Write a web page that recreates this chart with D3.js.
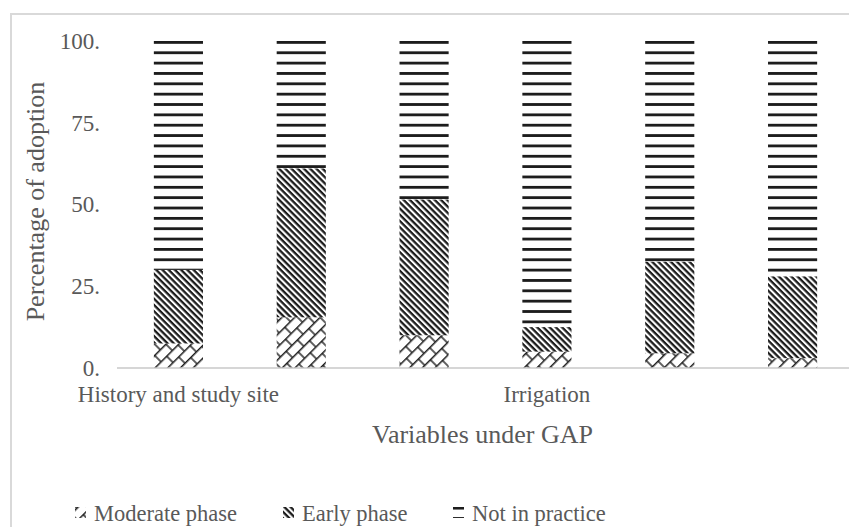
<!DOCTYPE html>
<html>
<head>
<meta charset="utf-8">
<script src="https://cdn.jsdelivr.net/npm/d3@7"></script>
<style>
  html, body { margin: 0; padding: 0; background: #fff; }
  svg { display: block; font-family: "Liberation Serif", "Times New Roman", serif; }
</style>
</head>
<body>
<svg id="chart" width="849" height="527"></svg>
<script>
// Adoption of good agricultural practices, percentage by phase
const categoryLabels = ["History and study site", "", "", "Irrigation", "", ""];
const moderatePhase = [7.5, 15.5, 10, 5, 4.5, 3];
const earlyPhase = [22.5, 45.5, 41.5, 7.5, 28, 25];
const notInPractice = [70, 39, 48.5, 87.5, 67.5, 72];
const yTicks = [0, 25, 50, 75, 100];
const yTickLabels = ["0.", "25.", "50.", "75.", "100."];
const seriesNames = ["Moderate phase", "Early phase", "Not in practice"];

const svg = d3.select("#chart");
const textColor = "#595959";
const ink = "#1c1c1c";

const plot = { left: 117, right: 854, top: 41, bottom: 368 };

const x = d3.scaleBand()
  .domain(categoryLabels.map((_, i) => i))
  .range([plot.left, plot.right])
  .paddingInner(0.6)
  .paddingOuter(0.3);

const y = d3.scaleLinear().domain([0, 100]).range([plot.bottom, plot.top]);

// ---- fill patterns ----
const defs = svg.append("defs");

// horizontal rules
const pNot = defs.append("pattern")
  .attr("id", "pat-not")
  .attr("patternUnits", "userSpaceOnUse")
  .attr("x", 0).attr("y", y(100))
  .attr("width", 10).attr("height", 10.35);
pNot.append("rect").attr("x", 0).attr("y", 0).attr("width", 10).attr("height", 2.8).attr("fill", ink);

// dense downward diagonal
const pEarly = defs.append("pattern")
  .attr("id", "pat-early")
  .attr("patternUnits", "userSpaceOnUse")
  .attr("width", 8).attr("height", 4.4)
  .attr("patternTransform", "rotate(45)");
pEarly.append("rect").attr("x", 0).attr("y", 0).attr("width", 8).attr("height", 2.3).attr("fill", ink);

// diagonal brick
const pMod = defs.append("pattern")
  .attr("id", "pat-mod")
  .attr("patternUnits", "userSpaceOnUse")
  .attr("width", 16).attr("height", 18)
  .attr("patternTransform", "rotate(-45)");
pMod.append("path")
  .attr("d", "M0,0.7H16M0,9.7H16M2,0.7V9.7M10,9.7V18.7")
  .attr("stroke", ink).attr("stroke-width", 1.4).attr("fill", "none");

const fills = ["url(#pat-mod)", "url(#pat-early)", "url(#pat-not)"];

// ---- chart frame ----
svg.append("rect")
  .attr("x", 11).attr("y", 14)
  .attr("width", 900).attr("height", 600)
  .attr("fill", "none").attr("stroke", "#d9d9d9").attr("stroke-width", 2);

// ---- stacked bars ----
const rows = categoryLabels.map((_, i) => ({
  i, vals: [moderatePhase[i], earlyPhase[i], notInPractice[i]]
}));

const barG = svg.append("g");
rows.forEach(r => {
  let base = 0;
  r.vals.forEach((v, k) => {
    barG.append("rect")
      .attr("x", x(r.i))
      .attr("width", x.bandwidth())
      .attr("y", y(base + v))
      .attr("height", y(base) - y(base + v))
      .attr("fill", fills[k]);
    base += v;
  });
});

// ---- axes ----
const xAxis = d3.axisBottom(x).tickSize(0).tickPadding(18).tickFormat(i => categoryLabels[i]);
const gx = svg.append("g").attr("transform", `translate(0,${plot.bottom})`).call(xAxis);
gx.select(".domain").remove();
gx.selectAll("text").attr("fill", textColor).style("font-size", "23px").style("font-family", "Liberation Serif");

svg.append("line")
  .attr("x1", plot.left).attr("x2", 849)
  .attr("y1", plot.bottom).attr("y2", plot.bottom)
  .attr("stroke", "#c8c8c8").attr("stroke-width", 1.5);

const yAxis = d3.axisLeft(y).tickValues(yTicks).tickSize(0).tickPadding(17)
  .tickFormat((d, i) => yTickLabels[i]);
const gy = svg.append("g").attr("transform", `translate(${plot.left},0)`).call(yAxis);
gy.select(".domain").remove();
gy.selectAll("text").attr("fill", textColor).style("font-size", "23px").style("font-family", "Liberation Serif");

// axis titles
svg.append("text")
  .attr("x", (plot.left + plot.right) / 2 - 3).attr("y", 443)
  .attr("text-anchor", "middle").attr("fill", textColor)
  .style("font-size", "26px")
  .text("Variables under GAP");

svg.append("text")
  .attr("transform", `translate(44,${(plot.top + plot.bottom) / 2 - 3}) rotate(-90)`)
  .attr("text-anchor", "middle").attr("fill", textColor)
  .style("font-size", "26px")
  .text("Percentage of adoption");

// ---- legend ----
const legendX = [75, 283, 453];
const legend = svg.append("g");
seriesNames.forEach((name, k) => {
  const g = legend.append("g").attr("transform", `translate(${legendX[k]},0)`);
  g.append("rect").attr("x", 0).attr("y", 507).attr("width", 11).attr("height", 11).attr("fill", fills[k]);
  g.append("text").attr("x", 19).attr("y", 521).attr("fill", textColor)
    .style("font-size", "22.5px").text(name);
});
</script>
</body>
</html>
